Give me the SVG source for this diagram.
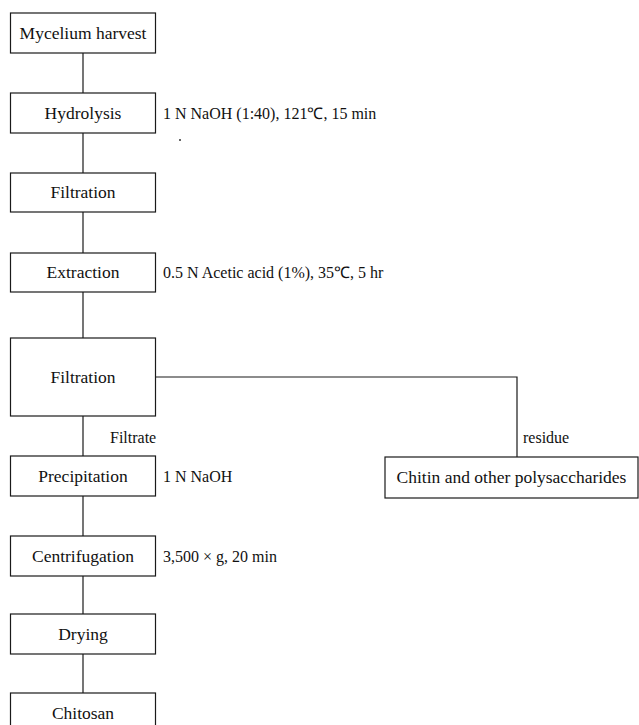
<svg xmlns="http://www.w3.org/2000/svg" width="639" height="725" viewBox="0 0 639 725">
<style>
.box{fill:#fff;stroke:#1a1a1a;stroke-width:1.2}
.t{font-family:"Liberation Serif","Times New Roman",serif;font-size:17.5px;fill:#111;text-anchor:middle}
.l{font-family:"Liberation Serif","Times New Roman",serif;font-size:16px;fill:#111}
.c{fill:none;stroke:#1a1a1a;stroke-width:1.2}
</style>
<rect width="639" height="725" fill="#fff"/>
<g id="connectors">
<line class="c" x1="83" y1="53" x2="83" y2="93"/>
<line class="c" x1="83" y1="133" x2="83" y2="173"/>
<line class="c" x1="83" y1="212" x2="83" y2="253"/>
<line class="c" x1="83" y1="292" x2="83" y2="338"/>
<line class="c" x1="83" y1="416" x2="83" y2="456"/>
<line class="c" x1="83" y1="496" x2="83" y2="536"/>
<line class="c" x1="83" y1="576" x2="83" y2="614"/>
<line class="c" x1="83" y1="654" x2="83" y2="693"/>
<polyline class="c" points="155.5,377 517,377 517,457"/>
<text class="l" x="110" y="443">Filtrate</text>
<text class="l" x="523" y="443">residue</text>
</g>
<g id="mycelium"><rect class="box" x="10.5" y="13" width="145" height="40"/><text class="t" x="83" y="39">Mycelium harvest</text></g>
<g id="hydrolysis"><rect class="box" x="10.5" y="93" width="145" height="40"/><text class="t" x="83" y="119">Hydrolysis</text><text class="l" x="163" y="119">1 N NaOH (1:40), 121℃, 15 min</text></g>
<circle cx="180" cy="140" r="1" fill="#333"/>
<g id="filtration1"><rect class="box" x="10.5" y="173" width="145" height="39"/><text class="t" x="83" y="198">Filtration</text></g>
<g id="extraction"><rect class="box" x="10.5" y="253" width="145" height="39"/><text class="t" x="83" y="278">Extraction</text><text class="l" x="163" y="278">0.5 N Acetic acid (1%), 35℃, 5 hr</text></g>
<g id="filtration2"><rect class="box" x="10.5" y="338" width="145" height="78"/><text class="t" x="83" y="383">Filtration</text></g>
<g id="precipitation"><rect class="box" x="10.5" y="456" width="145" height="40"/><text class="t" x="83" y="482">Precipitation</text><text class="l" x="163" y="482">1 N NaOH</text></g>
<g id="chitin"><rect class="box" x="385" y="457" width="253" height="41"/><text class="t" x="511.5" y="483">Chitin and other polysaccharides</text></g>
<g id="centrifugation"><rect class="box" x="10.5" y="536" width="145" height="40"/><text class="t" x="83" y="562">Centrifugation</text><text class="l" x="163" y="562">3,500 × g, 20 min</text></g>
<g id="drying"><rect class="box" x="10.5" y="614" width="145" height="40"/><text class="t" x="83" y="640">Drying</text></g>
<g id="chitosan"><rect class="box" x="10.5" y="693" width="145" height="50"/><text class="t" x="83" y="719">Chitosan</text></g>
</svg>
